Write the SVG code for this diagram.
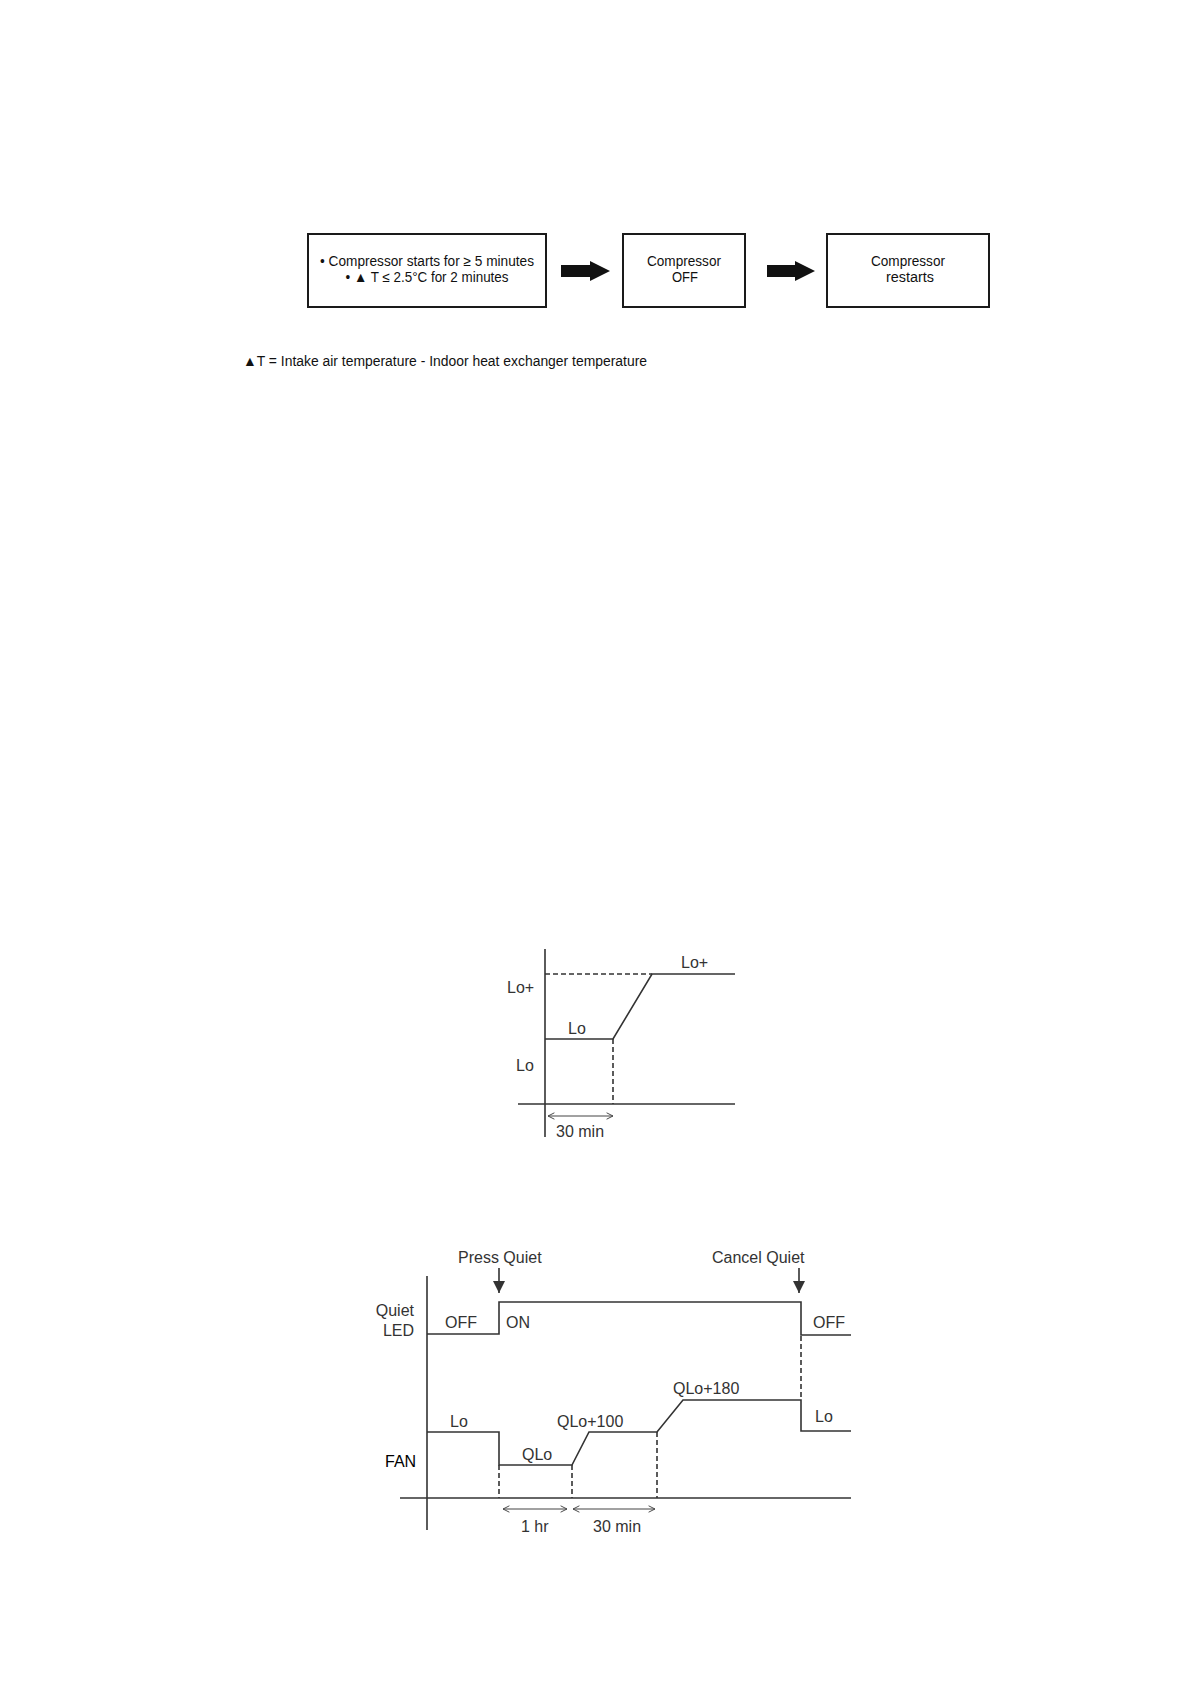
<svg xmlns="http://www.w3.org/2000/svg" width="1190" height="1684" viewBox="0 0 1190 1684">
<style>
.box{fill:#fff;stroke:#1a1a1a;stroke-width:2}
.bt{font-family:"Liberation Sans",Arial,sans-serif;font-size:14px;fill:#111;text-anchor:middle}
.ln{fill:none;stroke:#333;stroke-width:1.6}
.ax{fill:none;stroke:#333;stroke-width:1.6}
.ds{fill:none;stroke:#333;stroke-width:1.6;stroke-dasharray:5,3}
.ct{font-family:"Liberation Sans",Arial,sans-serif;font-size:16px;fill:#333}
.dim{fill:none;stroke:#444;stroke-width:1}
</style>
<defs>
<marker id="chev" viewBox="0 0 10 10" refX="9" refY="5" markerWidth="8" markerHeight="8" orient="auto-start-reverse" markerUnits="userSpaceOnUse">
<path d="M1,1 L9,5 L1,9" fill="none" stroke="#444" stroke-width="1.2"/>
</marker>
<marker id="tri" viewBox="0 0 10 10" refX="10" refY="5" markerWidth="12" markerHeight="12" orient="auto" markerUnits="userSpaceOnUse">
<path d="M0,0 L10,5 L0,10 Z" fill="#333"/>
</marker>
</defs>

<g id="node-start">
<rect class="box" x="308" y="234" width="238" height="73"/>
<text class="bt" x="427" y="266" textLength="214" lengthAdjust="spacingAndGlyphs">• Compressor starts for ≥ 5 minutes</text>
<text class="bt" x="427" y="282" textLength="163" lengthAdjust="spacingAndGlyphs">• ▲ T ≤ 2.5°C for 2 minutes</text>
</g>
<g id="node-off">
<rect class="box" x="623" y="234" width="122" height="73"/>
<text class="bt" x="684" y="266" textLength="74" lengthAdjust="spacingAndGlyphs">Compressor</text>
<text class="bt" x="685" y="282" textLength="26" lengthAdjust="spacingAndGlyphs">OFF</text>
</g>
<g id="node-restart">
<rect class="box" x="827" y="234" width="162" height="73"/>
<text class="bt" x="908" y="266" textLength="74" lengthAdjust="spacingAndGlyphs">Compressor</text>
<text class="bt" x="910" y="282" textLength="48" lengthAdjust="spacingAndGlyphs">restarts</text>
</g>
<g id="connectors">
<path d="M561,265 H590 V261 L610,271 L590,281 V277 H561 Z" fill="#111"/>
<path d="M767,265 H795 V261 L815,271 L795,281 V277 H767 Z" fill="#111"/>
</g>
<text x="243" y="366" font-family="'Liberation Sans',Arial,sans-serif" font-size="14" fill="#111" textLength="404" lengthAdjust="spacingAndGlyphs">▲T = Intake air temperature - Indoor heat exchanger temperature</text>

<g id="chart1">
<line class="ax" x1="545" y1="949" x2="545" y2="1137"/>
<line class="ax" x1="518" y1="1104" x2="735" y2="1104"/>
<line class="ds" x1="545" y1="974" x2="652" y2="974"/>
<polyline class="ln" points="545,1039 613,1039 652,974 735,974"/>
<line class="ds" x1="613" y1="1039" x2="613" y2="1104"/>
<line class="dim" x1="548" y1="1116" x2="613" y2="1116" marker-start="url(#chev)" marker-end="url(#chev)"/>
<text class="ct" x="507" y="993">Lo+</text>
<text class="ct" x="568" y="1034">Lo</text>
<text class="ct" x="681" y="968">Lo+</text>
<text class="ct" x="516" y="1071">Lo</text>
<text class="ct" x="556" y="1137">30 min</text>
</g>

<g id="chart2">
<line class="ax" x1="427" y1="1276" x2="427" y2="1530"/>
<line class="ax" x1="400" y1="1498" x2="851" y2="1498"/>
<polyline class="ln" points="427,1334 499,1334 499,1302 801,1302 801,1335 851,1335"/>
<line class="ln" x1="499" y1="1268" x2="499" y2="1293" marker-end="url(#tri)"/>
<line class="ln" x1="799" y1="1268" x2="799" y2="1293" marker-end="url(#tri)"/>
<polyline class="ln" points="427,1432 499,1432 499,1465 572,1465 589,1432 657,1432 683,1400 801,1400 801,1431 851,1431"/>
<line class="ds" x1="499" y1="1465" x2="499" y2="1498"/>
<line class="ds" x1="572" y1="1465" x2="572" y2="1498"/>
<line class="ds" x1="657" y1="1432" x2="657" y2="1498"/>
<line class="ds" x1="801" y1="1336" x2="801" y2="1400"/>
<line class="dim" x1="503" y1="1509" x2="567" y2="1509" marker-start="url(#chev)" marker-end="url(#chev)"/>
<line class="dim" x1="573" y1="1509" x2="655" y2="1509" marker-start="url(#chev)" marker-end="url(#chev)"/>
<text class="ct" x="458" y="1263">Press Quiet</text>
<text class="ct" x="712" y="1263">Cancel Quiet</text>
<text class="ct" x="414" y="1316" text-anchor="end">Quiet</text>
<text class="ct" x="414" y="1336" text-anchor="end">LED</text>
<text class="ct" x="445" y="1328">OFF</text>
<text class="ct" x="506" y="1328">ON</text>
<text class="ct" x="813" y="1328">OFF</text>
<text class="ct" x="450" y="1427">Lo</text>
<text class="ct" x="522" y="1460">QLo</text>
<text class="ct" x="557" y="1427">QLo+100</text>
<text class="ct" x="673" y="1394">QLo+180</text>
<text class="ct" x="815" y="1422">Lo</text>
<text x="385" y="1467" font-family="'Liberation Sans',Arial,sans-serif" font-size="16" fill="#000">FAN</text>
<text class="ct" x="521" y="1532">1 hr</text>
<text class="ct" x="593" y="1532">30 min</text>
</g>
</svg>
